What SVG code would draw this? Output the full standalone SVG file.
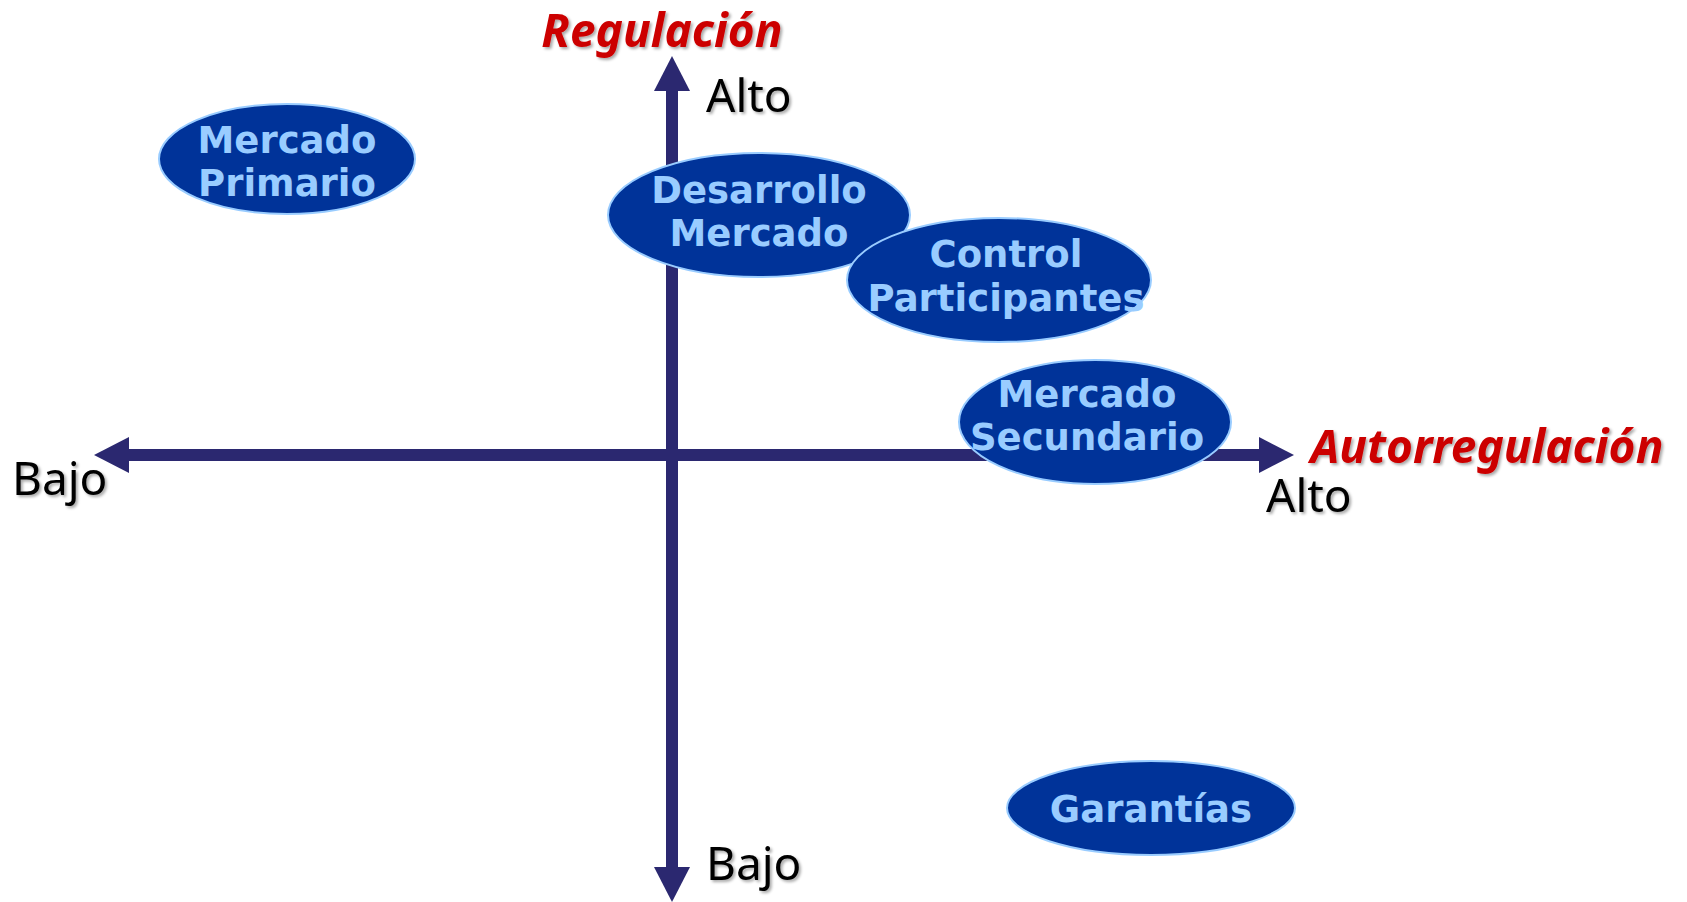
<svg xmlns="http://www.w3.org/2000/svg" width="1687" height="902" viewBox="0 0 1687 902">
  <style>
    .node ellipse { fill: #003399; stroke: #99CCFF; stroke-width: 2; }
    .node text { font-family: "DejaVu Sans", Verdana, sans-serif; font-weight: bold; font-size: 37px; fill: #99CCFF; text-anchor: middle; }
    .axis { stroke: #2B2870; stroke-width: 12; fill: none; marker-start: url(#head); marker-end: url(#head); }
    .lbl { font-family: "Noto Sans", "Open Sans", sans-serif; font-size: 46px; fill: #000000; filter: url(#shadow); }
    .title { font-family: "Noto Sans", "Open Sans", sans-serif; font-size: 46px; font-weight: bold; font-style: italic; fill: #CC0000; filter: url(#shadow); }
  </style>
  <defs>
    <marker id="head" markerUnits="userSpaceOnUse" markerWidth="36" markerHeight="36" viewBox="0 0 36 36" refX="0" refY="18" orient="auto-start-reverse">
      <path d="M0,0 L35,18 L0,36 Z" fill="#2B2870"/>
    </marker>
    <filter id="shadow" x="-10%" y="-10%" width="130%" height="140%">
      <feGaussianBlur in="SourceAlpha" stdDeviation="1.5"/>
      <feOffset dx="2" dy="2" result="b"/>
      <feComponentTransfer><feFuncA type="linear" slope="0.35"/></feComponentTransfer>
      <feMerge><feMergeNode/><feMergeNode in="SourceGraphic"/></feMerge>
    </filter>
  </defs>
  <rect width="1687" height="902" fill="#FFFFFF"/>

  <g id="connectors">
    <path class="axis" d="M672,91 L672,867"/>
    <path class="axis" d="M129,455 L1259,455"/>
  </g>

  <g id="labels">
    <text class="title" x="662" y="47" text-anchor="middle">Regulación</text>
    <text class="title" x="1487" y="463" text-anchor="middle">Autorregulación</text>
    <text class="lbl" x="706" y="112">Alto</text>
    <text class="lbl" x="12" y="495">Bajo</text>
    <text class="lbl" x="1266" y="512">Alto</text>
    <text class="lbl" x="706" y="880">Bajo</text>
  </g>

  <g id="mercado-primario" class="node">
    <ellipse cx="287" cy="159" rx="128" ry="55"/>
    <text x="287" y="153">Mercado</text>
    <text x="287" y="196">Primario</text>
  </g>

  <g id="desarrollo-mercado" class="node">
    <ellipse cx="759" cy="215" rx="151" ry="62"/>
    <text x="759" y="203">Desarrollo</text>
    <text x="759" y="246">Mercado</text>
  </g>

  <g id="control-participantes" class="node">
    <ellipse cx="999" cy="280" rx="152" ry="62"/>
    <text x="1006" y="267">Control</text>
    <text x="1006" y="311">Participantes</text>
  </g>

  <g id="mercado-secundario" class="node">
    <ellipse cx="1095" cy="422" rx="136" ry="62"/>
    <text x="1087" y="407">Mercado</text>
    <text x="1087" y="450">Secundario</text>
  </g>

  <g id="garantias" class="node">
    <ellipse cx="1151" cy="808" rx="144" ry="47"/>
    <text x="1151" y="822">Garantías</text>
  </g>
</svg>
